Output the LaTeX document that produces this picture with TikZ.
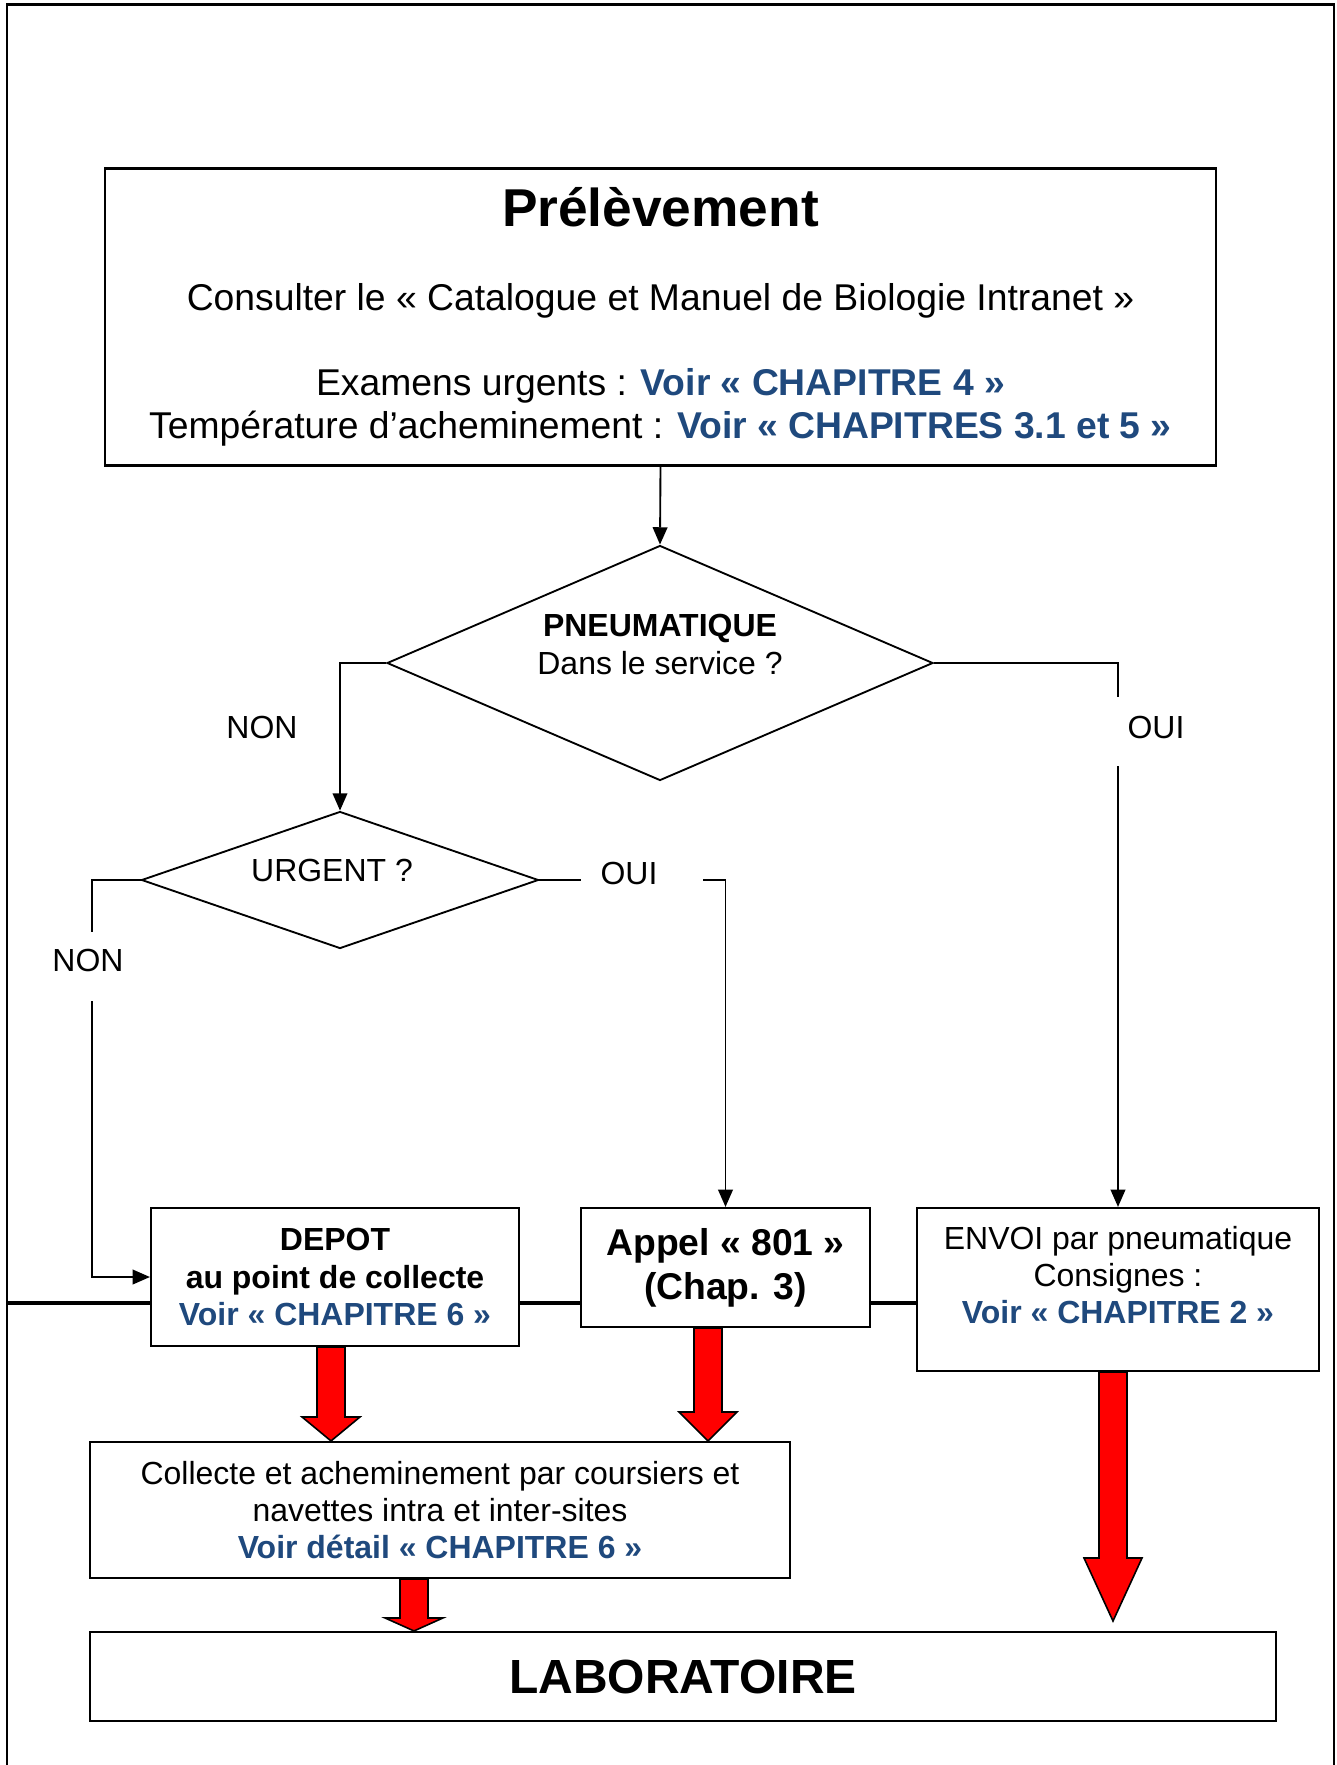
\documentclass[tikz,border=0pt]{standalone}
\usepackage{fontspec}
\setmainfont{Liberation Sans}
\usepackage{tikz}
\usetikzlibrary{shapes.geometric,calc,arrows.meta}
\definecolor{voirblue}{RGB}{31,73,125}
\newcommand{\pxu}{0.3754pt}
\newcommand{\voir}[1]{\textcolor{voirblue}{\bfseries #1}}
% big red arrow: x, from, to, head length
\newcommand{\fatarrow}[4]{%
  \path (#1,0 |- #2) coordinate (fa-s) (#1,0 |- #3) coordinate (fa-t);
  \filldraw[fatarrow] ($(fa-s)+(-14,0)$) -- ($(fa-t)+(-14,-#4)$) -- ($(fa-t)+(-29,-#4)$) -- (fa-t)
    -- ($(fa-t)+(29,-#4)$) -- ($(fa-t)+(14,-#4)$) -- ($(fa-s)+(14,0)$) -- cycle;
}

\begin{document}
\begin{tikzpicture}[x=0.3754pt,y=-0.3754pt,
  box/.style={draw,line width=0.8pt,inner sep=0pt,align=center,font=\fontsize{12}{14}\selectfont},
  test/.style={diamond,draw,line width=0.7pt,inner sep=0pt,align=center,font=\fontsize{12}{14}\selectfont},
  link/.style={line width=0.7pt},
  linkarrow/.style={line width=0.7pt,-{Triangle[length=6.5pt,width=5.5pt]}},
  bus/.style={line width=1.4pt},
  answer/.style={font=\fontsize{12}{14}\selectfont},
  fatarrow/.style={fill=red,draw=black,line width=0.6pt}]

\useasboundingbox (0,0) rectangle (1336,1765);
\draw[line width=0.8pt] (7,1765) -- (7,4.5) -- (1334,4.5) -- (1334,1765);

% boxes
\node[box,minimum width=1111*\pxu,minimum height=297*\pxu,font=\fontsize{14}{16}\selectfont] (prelev) at (660.5,317)
  {{\fontsize{20}{24}\selectfont\bfseries Prélèvement}\\[15.5pt]
   Consulter le « Catalogue et Manuel de Biologie Intranet »\\[16pt]
   Examens urgents : \voir{Voir « CHAPITRE 4 »}\\
   Température d’acheminement : \voir{Voir « CHAPITRES 3.1 et 5 »}};
\node[test,minimum width=546*\pxu,minimum height=235*\pxu,aspect=2.32] (pneu) at (660,663)
  {\textbf{PNEUMATIQUE}\\Dans le service ?\\\mbox{}};
\node[test,minimum width=397*\pxu,minimum height=137*\pxu,aspect=2.9] (urgent) at (340,880)
  {URGENT ?\hspace*{6pt}\\[-7pt]\mbox{}};

\node[box,minimum width=368*\pxu,minimum height=138*\pxu] (depot) at (335,1277)
  {\textbf{DEPOT}\\\textbf{au point de collecte}\\\voir{Voir « CHAPITRE 6 »}};
\node[box,minimum width=289*\pxu,minimum height=119*\pxu,font=\fontsize{14}{16.5}\selectfont\bfseries] (appel) at (725.5,1267.5)
  {Appel « 801 »\\(Chap. 3)};
\node[box,minimum width=402*\pxu,minimum height=163*\pxu] (envoi) at (1118,1289.5)
  {ENVOI par pneumatique\\Consignes :\\\voir{Voir « CHAPITRE 2 »}\\[-3pt]\mbox{}};
\node[box,minimum width=700*\pxu,minimum height=136*\pxu] (collecte) at (440,1510)
  {Collecte et acheminement par coursiers et\\navettes intra et inter-sites\\\voir{Voir détail « CHAPITRE 6 »}};
\node[box,minimum width=1186*\pxu,minimum height=89*\pxu,font=\fontsize{18}{22}\selectfont\bfseries] (labo) at (683,1676.5)
  {LABORATOIRE};

% answers
\node[answer] (pneunon) at (262,727) {NON};
\node[answer] (pneuoui) at (1156,727) {OUI};
\node[answer] (urgnon) at (88,960) {NON};
\node[answer] (urgoui) at (629,873) {OUI};

% connectors
\draw[linkarrow] (prelev.south) -- (pneu.north);
\draw[linkarrow] (pneu.west) -| (urgent.north);
\coordinate (pneuoui1) at (1118,697);
\coordinate (pneuoui2) at (1118,766);
\draw[link] (pneu.east) -| (pneuoui1);
\draw[linkarrow] (pneuoui2) -- (envoi.north);
\coordinate (urgnon1) at (92,932);
\coordinate (urgnon2) at (92,1001);
\draw[link] (urgent.west) -| (urgnon1);
\draw[linkarrow] (urgnon2) |- (depot.west);
\coordinate (urgoui1) at (581,880);
\coordinate (urgoui2) at (703,880);
\draw[link] (urgent.east) -- (urgoui1);
\draw[linkarrow] (urgoui2) -| (appel.north);

\coordinate (busleft) at (7,1303);
\draw[bus] (busleft) -- (busleft -| depot.west) (busleft -| depot.east) -- (busleft -| appel.west)
  (busleft -| appel.east) -- (busleft -| envoi.west);

% red arrows
\fatarrow{331}{depot.south}{collecte.north}{24}
\fatarrow{708}{appel.south}{collecte.north}{29}
\coordinate (labotip) at (1113,1621);
\fatarrow{1113}{envoi.south}{labotip}{63}
\fatarrow{414}{collecte.south}{labo.north}{13}
\end{tikzpicture}
\end{document}
